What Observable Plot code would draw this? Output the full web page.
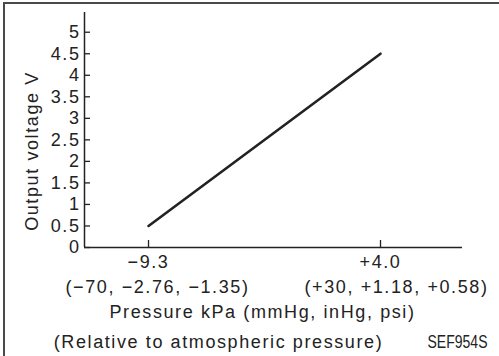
<!DOCTYPE html>
<html>
<head>
<meta charset="utf-8">
<script src="https://cdn.jsdelivr.net/npm/d3@7"></script>
<script src="https://cdn.jsdelivr.net/npm/@observablehq/plot@0.6"></script>
<style>
  html, body { margin: 0; padding: 0; background: #fff; }
  #wrap { position: relative; width: 499px; height: 356px; overflow: hidden; }
  #border { position: absolute; left: 3px; top: 2px; width: 700px; height: 700px;
            border-top: 2px solid #4a4a4a; border-left: 2px solid #4a4a4a; pointer-events: none; z-index: 2; }
  #wrap svg { font-family: 'Liberation Sans', Arial, sans-serif !important; font-size: 18px !important;
              letter-spacing: 1.6px; color: #222; background: transparent; }
  #wrap svg .code, #wrap svg .code text { letter-spacing: 0; }
</style>
</head>
<body>
<div id="wrap"><div id="border"></div></div>
<script>
// Data
const pressureKPa = [-9.3, 4.0];
const outputVoltage = [0.5, 4.5];
const xTicks = [-9.3, 4.0];
const xTickLabels = ["−9.3", "+4.0"];
const xSubLabels = ["(−70, −2.76, −1.35)", "(+30, +1.18, +0.58)"];
const yTicks = [0, 0.5, 1, 1.5, 2, 2.5, 3, 3.5, 4, 4.5, 5];
const yTickLabels = ["0", "0.5", "1", "1.5", "2", "2.5", "3", "3.5", "4", "4.5", "5"];
const yLabel = "Output voltage V";
const xLabel = "Pressure kPa (mmHg, inHg, psi)";
const xLabel2 = "(Relative to atmospheric pressure)";
const figureCode = "SEF954S";

const xDomain = [-12.97, 8.70];
const yDomain = [0, 5.458];

const data = pressureKPa.map((p, i) => ({p, v: outputVoltage[i]}));
const subs = xTicks.map((p, i) => ({p, label: xSubLabels[i]}));

const ink = "#222";
const chart = Plot.plot({
  width: 499,
  height: 356,
  marginLeft: 84,
  marginRight: 37,
  marginTop: 12,
  marginBottom: 109,
  x: {domain: xDomain},
  y: {domain: yDomain},
  marks: [
    Plot.axisY({ticks: yTicks, tickFormat: (d, i) => yTickLabels[i], tickSize: -6, tickPadding: 10, label: null, stroke: ink, strokeWidth: 1.3}),
    Plot.axisX({ticks: xTicks, tickFormat: (d, i) => xTickLabels[i], tickSize: -7, tickPadding: 15, label: null, stroke: ink, strokeWidth: 1.3}),
    Plot.ruleX([xDomain[0]], {stroke: ink, strokeWidth: 1.5}),
    Plot.ruleY([yDomain[0]], {stroke: ink, strokeWidth: 1.5}),
    Plot.line(data, {x: "p", y: "v", stroke: ink, strokeWidth: 2.6}),
    Plot.text([subs[0]], {x: "p", text: "label", frameAnchor: "bottom", lineAnchor: "top", dy: 33, dx: 9, fill: ink}),
    Plot.text([subs[1]], {x: "p", text: "label", frameAnchor: "bottom", lineAnchor: "top", dy: 33, dx: 16, fill: ink}),
    Plot.text([xLabel], {frameAnchor: "bottom", lineAnchor: "top", dy: 58, dx: -11, fill: ink}),
    Plot.text([xLabel2], {frameAnchor: "bottom", lineAnchor: "top", dy: 88, dx: -55, fill: ink}),
    Plot.text([figureCode], {frameAnchor: "bottom-right", textAnchor: "end", lineAnchor: "top", dy: 88, dx: 25, fill: ink, className: "code"}),
    Plot.text([yLabel], {frameAnchor: "left", rotate: -90, textAnchor: "middle", lineAnchor: "middle", dx: -52, dy: 21, fill: ink})
  ]
});
// condensed look of the figure code
chart.querySelectorAll(".code text").forEach(t => {
  t.setAttribute("textLength", "60");
  t.setAttribute("lengthAdjust", "spacingAndGlyphs");
});
document.getElementById("wrap").appendChild(chart);
</script>
</body>
</html>
